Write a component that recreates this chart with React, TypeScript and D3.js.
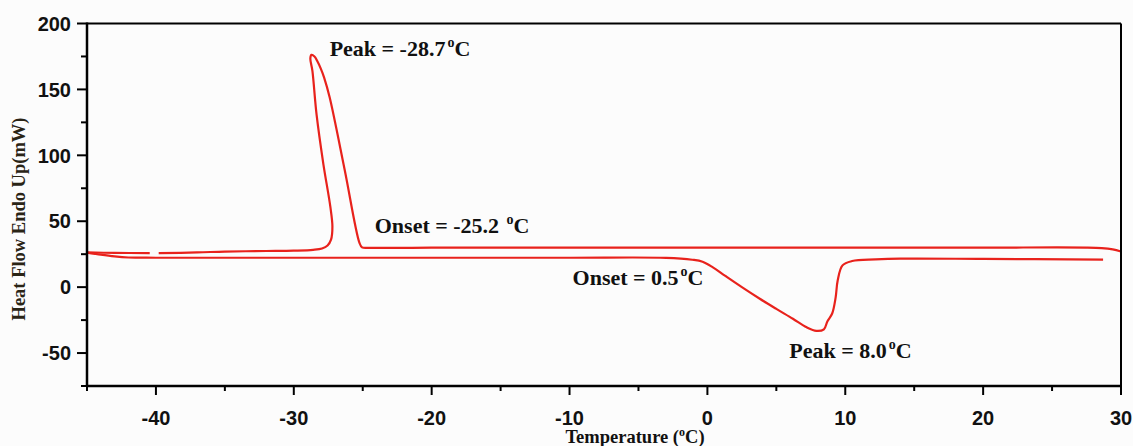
import React from "react";
import * as d3 from "d3";

// Upper curve (cooling scan, crystallisation peak)
const upperT = [-45, -43, -40.45, null, -39.8, -37, -35, -32, -30, -28.6, -27.95, -27.55, -27.3, -27.2, -27.35, -27.85, -28.35, -28.65, -28.8, -28.72, -28.5, -28.3, -28.05, -27.8, -27.4, -26.3, -25.25, -25.05, -24.5, -20, -10, 0, 10, 20, 27.5, 28.6, 29.4, 30];
const upperV = [26.3, 26.0, 25.8, null, 25.8, 26.3, 27.0, 27.4, 27.7, 28.3, 29.3, 31.6, 36, 46, 61, 93, 131, 164, 173.5, 176.2, 175, 171.5, 166, 159, 144, 88.5, 34, 30.2, 29.8, 30, 30, 30, 30, 30, 30, 29.6, 28.6, 27];

// Lower curve (heating scan, melting peak)
const lowerT = [-45, -44, -43, -42, -40, -30, -20, -10, -3, -1.1, -0.35, 0.4, 1.3, 2.5, 3.8, 5.0, 6.2, 7.2, 7.9, 8.45, 8.7, 9.05, 9.3, 9.45, 9.8, 10.5, 12.2, 14, 20, 28.7];
const lowerV = [26.2, 24.6, 23.3, 22.5, 22.3, 22.3, 22.3, 22.3, 22.2, 20.8, 19.3, 15.0, 8.5, 0, -8.8, -16.5, -24, -30.5, -33.2, -32, -26, -20, -8, 5, 16.5, 19.8, 21.0, 21.6, 21.4, 20.9];

const xMajor = [-40, -30, -20, -10, 0, 10, 20, 30];
const xMinor = [-45, -35, -25, -15, -5, 5, 15, 25];
const yMajor = [-50, 0, 50, 100, 150, 200];
const yMinor = [-75, -25, 25, 75, 125, 175];

const annText = ["Peak = -28.7", "Onset = -25.2 ", "Onset = 0.5", "Peak = 8.0"];
const annX = [-27.4, -24.13, -9.78, 5.94];
const annY = [175.3, 40.8, 1.3, -53.4];

const W = 1133;
const H = 446;

export default function App() {
  const x = d3.scaleLinear().domain([-45, 30]).range([87, 1121]);
  const y = d3.scaleLinear().domain([-75, 200]).range([386, 23.5]);

  const mk = (ts: (number | null)[], vs: (number | null)[]) =>
    ts.map((t, i) => ({ t, v: vs[i] }));
  const line = d3
    .line<{ t: number | null; v: number | null }>()
    .defined((d) => d.t !== null && d.v !== null)
    .x((d) => x(d.t as number))
    .y((d) => y(d.v as number))
    .curve(d3.curveCatmullRom.alpha(0.5));

  const red = "#e8221c";
  const tickFont = "Arial, 'Liberation Sans', sans-serif";
  const serif = "'Times New Roman', 'Liberation Serif', serif";

  return (
    <svg
      width={W}
      height={H}
      style={{ position: "absolute", left: 0, top: 0, background: "#fcfcfc" }}
    >
      <rect x={0} y={0} width={W} height={H} fill="#fcfcfc" />
      <path d={line(mk(upperT, upperV)) || ""} fill="none" stroke={red} strokeWidth={2.2} />
      <path d={line(mk(lowerT, lowerV)) || ""} fill="none" stroke={red} strokeWidth={2.2} />

      {/* frame */}
      <line x1={x(-45)} x2={x(30)} y1={y(200)} y2={y(200)} stroke="#000" strokeWidth={2} />
      <line x1={x(30)} x2={x(30)} y1={y(200)} y2={y(-75)} stroke="#000" strokeWidth={2} />
      <line x1={x(-45)} x2={x(-45)} y1={y(200) - 1} y2={y(-75) + 1} stroke="#000" strokeWidth={2.5} />
      <line x1={x(-45) - 1} x2={x(30) + 1} y1={y(-75)} y2={y(-75)} stroke="#000" strokeWidth={2.5} />

      {/* x ticks */}
      {xMajor.map((t) => (
        <g key={"xm" + t}>
          <line x1={x(t)} x2={x(t)} y1={y(-75)} y2={y(-75) + 9} stroke="#000" strokeWidth={2} />
          <text x={x(t)} y={425} textAnchor="middle" fontFamily={tickFont} fontWeight="bold" fontSize={20} fill="#111">
            {t}
          </text>
        </g>
      ))}
      {xMinor.map((t) => (
        <line key={"xn" + t} x1={x(t)} x2={x(t)} y1={y(-75)} y2={y(-75) + 5} stroke="#000" strokeWidth={2} />
      ))}

      {/* y ticks */}
      {yMajor.map((v) => (
        <g key={"ym" + v}>
          <line x1={x(-45) - 10} x2={x(-45)} y1={y(v)} y2={y(v)} stroke="#000" strokeWidth={2} />
          <text x={71} y={y(v)} dy="0.36em" textAnchor="end" fontFamily={tickFont} fontWeight="bold" fontSize={20} fill="#111">
            {v}
          </text>
        </g>
      ))}
      {yMinor.map((v) => (
        <line key={"yn" + v} x1={x(-45) - 6} x2={x(-45)} y1={y(v)} y2={y(v)} stroke="#000" strokeWidth={2} />
      ))}

      {/* axis titles */}
      <text
        transform="translate(25,219) rotate(-90)"
        textAnchor="middle"
        fontFamily={serif}
        fontWeight="bold"
        fontSize={18.5}
        fill="#2a2416"
      >
        Heat Flow Endo Up(mW)
      </text>
      <text x={635} y={443} textAnchor="middle" fontFamily={serif} fontWeight="bold" fontSize={18.5} fill="#111">
        Temperature (
        <tspan fontSize={12} dy={-7}>o</tspan>
        <tspan dy={7}>C)</tspan>
      </text>

      {/* annotations */}
      {annText.map((s, i) => (
        <text key={"a" + i} x={x(annX[i])} y={y(annY[i])} fontFamily={serif} fontWeight="bold" fontSize={22} fill="#111">
          {s}
          <tspan fontSize={14} dx={2} dy={-9}>o</tspan>
          <tspan dy={9}>C</tspan>
        </text>
      ))}
    </svg>
  );
}
